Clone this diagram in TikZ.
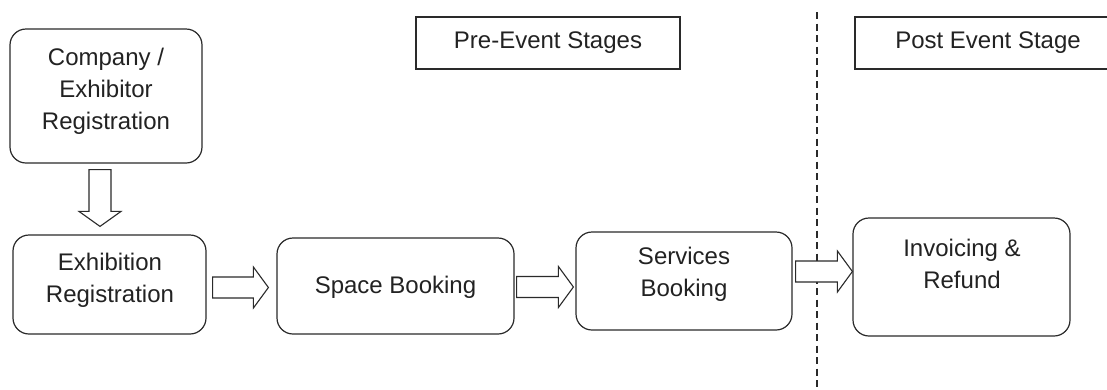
\documentclass[tikz,border=0pt]{standalone}
\usepackage{fontspec}
\setmainfont{Liberation Sans}
\usetikzlibrary{calc}
\definecolor{linec}{HTML}{2A2A2A}
\definecolor{textc}{HTML}{222222}
\newcommand\blockarrowh[2]{%
  \draw[barrow] let \p1=(#1), \p2=(#2) in
    (\x1,\y1+10.5pt) -- (\x2-15pt,\y1+10.5pt) -- (\x2-15pt,\y1+20.5pt) -- (\x2,\y1)
    -- (\x2-15pt,\y1-20.5pt) -- (\x2-15pt,\y1-10.5pt) -- (\x1,\y1-10.5pt) -- cycle;}
\newcommand\blockarrowv[2]{%
  \draw[barrow] let \p1=(#1), \p2=(#2) in
    (\x1-11pt,\y1) -- (\x1-11pt,\y2+15pt) -- (\x1-21pt,\y2+15pt) -- (\x1,\y2)
    -- (\x1+21pt,\y2+15pt) -- (\x1+11pt,\y2+15pt) -- (\x1+11pt,\y1) -- cycle;}
\begin{document}
\begin{tikzpicture}[x=1pt,y=-1pt,
  box/.style={draw=linec, line width=1.2pt, rounded corners=16pt, inner sep=0pt},
  stagebox/.style={draw=linec, line width=1.2pt, inner sep=0pt, minimum height=52pt},
  txt/.style={text=textc, font=\fontsize{24pt}{32pt}\selectfont, align=center, inner sep=0pt},
  barrow/.style={draw=linec, line width=1.1pt, fill=white, line join=miter},
  divider/.style={draw=linec, line width=1.3pt, dash pattern=on 7pt off 4.5pt}]
\useasboundingbox[fill=white] (0,0) rectangle (1107,389);

% stage headers
\node[stagebox, minimum width=264pt] (pre) at (548,43) {};
\node[txt] (pret) at (548,43) {Pre-Event Stages};
\node[stagebox, minimum width=266pt] (post) at (988,43) {};
\node[txt] (postt) at (988,43) {Post Event Stage};

% divider
\coordinate (dtop) at (817,12);
\coordinate (dbot) at (817,389);
\draw[divider] (dtop) -- (dbot);

% process boxes
\node[box, minimum width=192pt, minimum height=134pt] (c) at (106,96) {};
\node[txt] (ct) at (106,91) {Company /\\Exhibitor\\Registration};

\node[box, minimum width=193pt, minimum height=99pt] (e) at (109.5,284.5) {};
\node[txt] (et) at (110,280) {Exhibition\\Registration};

\node[box, minimum width=237pt, minimum height=96pt] (s) at (395.5,286) {};
\node[txt] (st) at (395.5,287) {Space Booking};

\node[box, minimum width=216pt, minimum height=98pt] (sv) at (684,281) {};
\node[txt] (svt) at (684,274) {Services\\Booking};

\node[box, minimum width=217pt, minimum height=118pt] (inv) at (961.5,277) {};
\node[txt] (invt) at (962,264) {Invoicing \&\\Refund};

% block arrows
\blockarrowv{$(c.south)+(-6,6)$}{$(e.north)+(-9.5,-8)$}
\blockarrowh{$(e.east)+(6,3)$}{$(s.west)+(-8,0)$}
\blockarrowh{$(s.east)+(2,1)$}{$(sv.west)+(-2,0)$}
\blockarrowh{$(sv.east)+(3,-9.5)$}{$(inv.west)+(0,0)$}
\end{tikzpicture}
\end{document}
